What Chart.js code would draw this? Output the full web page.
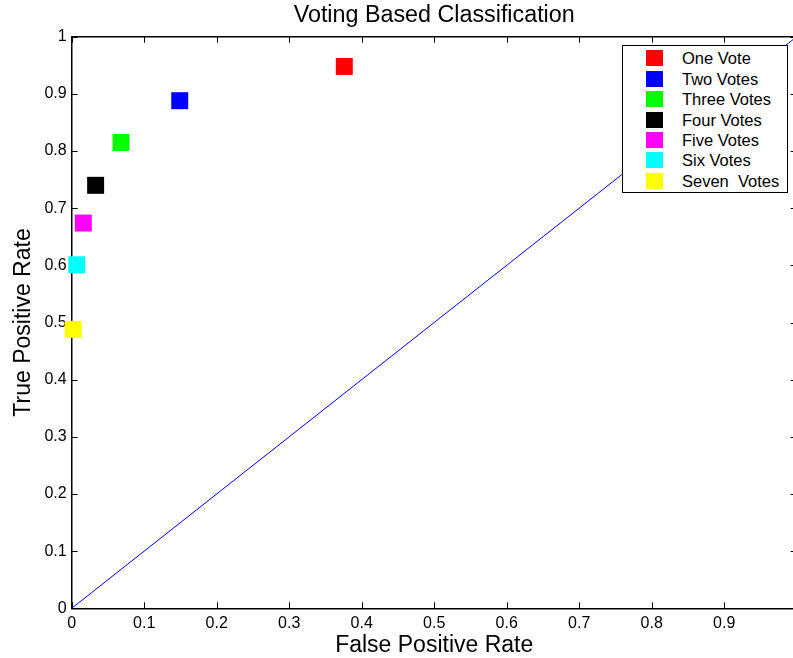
<!DOCTYPE html>
<html><head><meta charset="utf-8">
<script src="https://cdn.jsdelivr.net/npm/chart.js@4/dist/chart.umd.min.js"></script>
<style>
html,body{margin:0;padding:0;background:#fff;overflow:hidden;}
#wrap{position:relative;width:810px;height:658px;}
#legend{position:absolute;left:622px;top:45px;width:164px;height:146px;border:1px solid #000;background:#fff;font-family:"Liberation Sans",Arial,Helvetica,sans-serif;font-size:16.5px;color:#000;}
.item{position:absolute;left:0;width:162px;height:20px;line-height:20px;white-space:pre;}
.sw{position:absolute;left:23px;top:2px;width:17px;height:16px;}
.lab{position:absolute;left:59px;top:0;}
</style></head><body>
<div id="wrap"><canvas id="c" width="810" height="658"></canvas><div id="legend"></div></div>
<script>
const seriesNames = ["One Vote","Two Votes","Three Votes","Four Votes","Five Votes","Six Votes","Seven  Votes"];
const falsePositiveRate = [0.376,0.149,0.068,0.033,0.016,0.007,0.002];
const truePositiveRate = [0.948,0.888,0.815,0.740,0.674,0.601,0.488];
const seriesColors = ["#ff0000","#0000ff","#00ff00","#000000","#ff00ff","#00ffff","#ffff00"];
const chanceLineX = [0,1];
const chanceLineY = [0,1];
const axisMin = 0, axisMax = 1, axisStep = 0.1;

const FONT = '"Liberation Sans", Arial, Helvetica, sans-serif';

const datasets = seriesNames.map((name,i)=>({
  type:'scatter',
  label:name,
  data:[{x:falsePositiveRate[i], y:truePositiveRate[i]}],
  backgroundColor:seriesColors[i],
  borderColor:seriesColors[i],
  borderWidth:0,
  pointStyle:'rect',
  pointRadius:12,
  pointHoverRadius:12,
  clip:false
}));
datasets.unshift({
  type:'line',
  label:'chance',
  data:chanceLineX.map((v,i)=>({x:v,y:chanceLineY[i]})),
  borderColor:'#0000ff',
  borderWidth:1,
  pointRadius:0,
  fill:false
});

const fmt = v => { const r = Math.round(v*10)/10; return String(r); };

const framePlugin = {
  id:'frame',
  beforeDatasetsDraw(chart){
    const {ctx, chartArea:a, scales:{x,y}} = chart;
    ctx.save();
    ctx.strokeStyle='#000';
    ctx.lineWidth=1;
    ctx.beginPath();
    x.ticks.forEach(t=>{
      const px = Math.round(x.getPixelForValue(t.value))+0.5;
      ctx.moveTo(px,a.bottom); ctx.lineTo(px,a.bottom-6);
      ctx.moveTo(px,a.top); ctx.lineTo(px,a.top+6);
    });
    y.ticks.forEach(t=>{
      const py = Math.round(y.getPixelForValue(t.value))+0.5;
      ctx.moveTo(a.left,py); ctx.lineTo(a.left+6,py);
      ctx.moveTo(a.right,py); ctx.lineTo(a.right-6,py);
    });
    ctx.stroke();
    ctx.lineWidth=1.5;
    ctx.beginPath();
    ctx.moveTo(a.left,a.top); ctx.lineTo(a.right,a.top); ctx.lineTo(a.right,a.bottom);
    ctx.stroke();
    ctx.restore();
  }
};

const chart = new Chart(document.getElementById('c'), {
  data:{datasets},
  options:{
    responsive:false,
    animation:false,
    events:[],
    layout:{padding:{left:0,top:0,right:13.3,bottom:0}},
    plugins:{
      legend:{display:false},
      tooltip:{enabled:false},
      title:{
        display:true,
        text:'Voting Based Classification',
        fullSize:false,
        color:'#000',
        font:{family:FONT,size:23.3,weight:'normal',lineHeight:1},
        padding:{top:3.7,bottom:9.7}
      }
    },
    scales:{
      x:{
        type:'linear',
        min:axisMin,max:axisMax,
        afterFit:s=>{s.height=49.7;},
        grid:{display:false,drawTicks:false},
        border:{display:true,color:'#000',width:1.5},
        ticks:{stepSize:axisStep,padding:5.5,color:'#000',maxRotation:0,autoSkip:false,
          font:{family:FONT,size:16},callback:fmt},
        title:{display:true,text:'False Positive Rate',color:'#000',
          font:{family:FONT,size:23,lineHeight:1},padding:{top:0,bottom:1.2}}
      },
      y:{
        type:'linear',
        min:axisMin,max:axisMax,
        afterFit:s=>{s.width=71.7;},
        grid:{display:false,drawTicks:false},
        border:{display:true,color:'#000',width:1.5},
        ticks:{stepSize:axisStep,padding:5,color:'#000',autoSkip:false,
          font:{family:FONT,size:16},callback:fmt},
        title:{display:true,text:'True Positive Rate',color:'#000',
          font:{family:FONT,size:23,lineHeight:1},padding:{top:12.2,bottom:0}}
      }
    }
  },
  plugins:[framePlugin]
});

const legend = document.getElementById('legend');
seriesNames.forEach((name,i)=>{
  const it = document.createElement('div');
  it.className='item';
  it.style.top = (2.3 + 20.4*i)+'px';
  const sw = document.createElement('div');
  sw.className='sw';
  sw.style.background = seriesColors[i];
  const lb = document.createElement('span');
  lb.className='lab';
  lb.textContent = name;
  it.appendChild(sw); it.appendChild(lb);
  legend.appendChild(it);
});
</script>
</body></html>
